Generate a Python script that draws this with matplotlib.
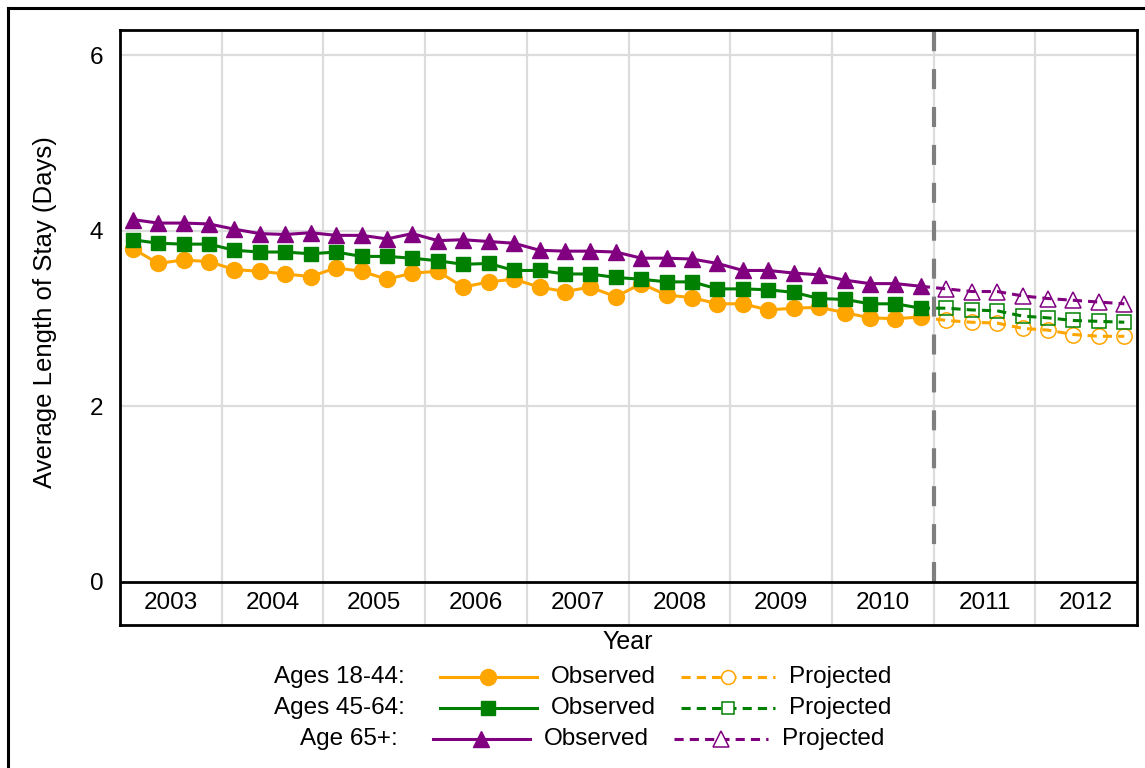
import numpy as np
import matplotlib
matplotlib.use('Agg')
import matplotlib.pyplot as plt
from matplotlib.lines import Line2D

plt.rcParams['font.family'] = ['Liberation Sans', 'DejaVu Sans']

# --- data ---
years = [2003, 2004, 2005, 2006, 2007, 2008, 2009, 2010, 2011, 2012]
obs_years = years[:8]
proj_years = years[8:]

# quarterly averages, 2003 Q1 .. 2010 Q4
obs_18_44 = [3.80, 3.63, 3.67, 3.65, 3.56, 3.54, 3.51, 3.48,
             3.58, 3.54, 3.45, 3.52, 3.54, 3.36, 3.42, 3.45,
             3.36, 3.31, 3.36, 3.25, 3.40, 3.27, 3.24, 3.17,
             3.17, 3.10, 3.12, 3.13, 3.07, 3.01, 3.00, 3.02]
obs_45_64 = [3.90, 3.86, 3.85, 3.85, 3.78, 3.76, 3.76, 3.74,
             3.76, 3.71, 3.71, 3.69, 3.66, 3.62, 3.63, 3.55,
             3.55, 3.51, 3.51, 3.47, 3.45, 3.42, 3.42, 3.34,
             3.34, 3.33, 3.30, 3.23, 3.22, 3.17, 3.17, 3.12]
obs_65 = [4.13, 4.09, 4.09, 4.08, 4.02, 3.97, 3.96, 3.98,
          3.95, 3.95, 3.91, 3.97, 3.89, 3.90, 3.88, 3.86,
          3.78, 3.77, 3.77, 3.76, 3.69, 3.69, 3.68, 3.63,
          3.55, 3.55, 3.52, 3.50, 3.44, 3.40, 3.40, 3.37]

# projections, 2011 Q1 .. 2012 Q4
proj_18_44 = [2.98, 2.96, 2.95, 2.89, 2.87, 2.82, 2.80, 2.80]
proj_45_64 = [3.12, 3.10, 3.09, 3.03, 3.01, 2.98, 2.97, 2.96]
proj_65 = [3.34, 3.31, 3.31, 3.26, 3.23, 3.21, 3.19, 3.17]

series = [
    ('Ages 18-44:', '#FFA500', 'o', obs_18_44, proj_18_44),
    ('Ages 45-64:', '#008000', 's', obs_45_64, proj_45_64),
    ('Age 65+:', '#800080', '^', obs_65, proj_65),
]

W, H = 1145, 768


def fx(x):
    return x / W


def fy(y):
    return 1 - y / H


fig = plt.figure(figsize=(W / 100, H / 100), dpi=100)

# outer frame (top + left)
fig.add_artist(Line2D([fx(8), fx(1145)], [fy(8), fy(8)], color='black', lw=2.2))
fig.add_artist(Line2D([fx(8), fx(8)], [fy(8), fy(768)], color='black', lw=2.2))

ax = fig.add_axes([fx(120), fy(625), fx(1137) - fx(120), fy(30) - fy(625)])
ylo, yhi = -0.49, 6.29
ax.set_xlim(2003, 2013)
ax.set_ylim(ylo, yhi)

grid_c = '#DCDCDC'
for v in [2, 4, 6]:
    ax.axhline(v, color=grid_c, lw=1.6, zorder=0)
ax.vlines(years[1:], ylo, yhi, color=grid_c, lw=1.6, zorder=0)
ax.vlines(2011, 0, yhi, color='#7F7F7F', lw=3, linestyles=(0, (4.8, 4.3)), zorder=1)
ax.axhline(0, color='black', lw=2, zorder=2)

x_obs = np.array([y + (q - 0.5) / 4 for y in obs_years for q in range(1, 5)])
x_proj = np.array([y + (q - 0.5) / 4 for y in proj_years for q in range(1, 5)])

msz = {'o': 11.5, 's': 10, '^': 11.5}
psz = {'o': 11, 's': 9.5, '^': 12}
for label, col, mk, obs, proj in series:
    ax.plot(x_obs, obs, color=col, lw=2.2, marker=mk, ms=msz[mk],
            mec=col, mfc=col, zorder=3)
    xp = np.concatenate([[x_obs[-1]], x_proj])
    yp = [obs[-1]] + proj
    ax.plot(xp, yp, color=col, lw=2.2, ls=(0, (3, 2)), marker=mk, ms=psz[mk],
            mfc='none', mec=col, mew=1.1, markevery=list(range(1, len(xp))), zorder=3)

for y in years:
    ax.text(y + 0.5, ylo / 2, str(y), ha='center', va='center', fontsize=17.5)

ax.set_xticks([])
ax.set_yticks([0, 2, 4, 6])
ax.tick_params(axis='y', length=0, pad=12, labelsize=17.5)
for s in ax.spines.values():
    s.set_linewidth(2)
    s.set_color('black')

fig.text(fx(628), fy(642), 'Year', ha='center', va='center', fontsize=18)
fig.text(fx(45), fy(312), 'Average Length of Stay (Days)', rotation=90,
         ha='center', va='center', fontsize=18.5)

# legend laid out as in the original (rows per age group)
rows_y = [677, 708, 739]
shift = [0, 0, -7]
for (label, col, mk, obs, proj), ry, dx in zip(series, rows_y, shift):
    fig.text(fx(405 + dx), fy(ry), label, ha='right', va='center', fontsize=17.5)
    fig.add_artist(Line2D([fx(440 + dx), fx(537 + dx)], [fy(ry), fy(ry)], color=col, lw=2.2))
    fig.add_artist(Line2D([fx(488 + dx)], [fy(ry)], marker=mk, ms=msz[mk], color=col, ls='none'))
    fig.text(fx(551 + dx), fy(ry), 'Observed', ha='left', va='center', fontsize=17.5)
    fig.add_artist(Line2D([fx(681 + dx), fx(775 + dx)], [fy(ry), fy(ry)], color=col, lw=2.2, ls=(0, (3, 2))))
    fig.add_artist(Line2D([fx(728 + dx)], [fy(ry)], marker=mk, ms=psz[mk] - 1, mfc='white',
                          mec=col, mew=1.1, ls='none'))
    fig.text(fx(789 + dx), fy(ry), 'Projected', ha='left', va='center', fontsize=17.5)

fig.savefig('out.png', dpi=100)
